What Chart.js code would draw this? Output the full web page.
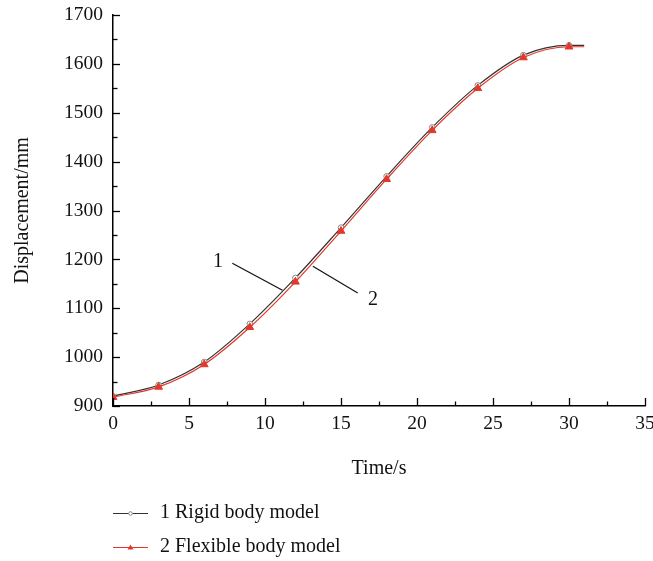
<!DOCTYPE html>
<html>
<head>
<meta charset="utf-8">
<script src="https://cdn.jsdelivr.net/npm/chart.js@4/dist/chart.umd.min.js"></script>
<style>
html,body{margin:0;padding:0;background:#fff;}
#wrap{width:653px;height:561px;position:relative;}
</style>
</head>
<body>
<div id="wrap"><canvas id="c" width="653" height="561"></canvas></div>
<script>
const times = [0, 3, 6, 9, 12, 15, 18, 21, 24, 27, 30, 31];
const rigid = [920, 943, 990, 1068, 1162, 1265, 1370, 1470, 1556, 1618, 1638, 1638];
const flexible = [918, 939, 985, 1061, 1154, 1258, 1364, 1464, 1550, 1613, 1635, 1635];
const seriesLabels = ['1 Rigid body model', '2 Flexible body model'];
const xTitle = 'Time/s';
const yTitle = 'Displacement/mm';
const xTicks = [0, 5, 10, 15, 20, 25, 30, 35];
const yTicks = [900, 1000, 1100, 1200, 1300, 1400, 1500, 1600, 1700];
const calloutLabels = ['1', '2'];

const FONT = "'Liberation Serif', 'Times New Roman', serif";
const RED = '#e2382b';
const DARK = '#333333';

const toPts = (ys) => times.map((t, i) => ({x: t, y: ys[i]}));
const lastIdx = times.length - 1;

const extras = {
  id: 'extras',
  afterDraw(chart) {
    const ctx = chart.ctx;
    const xs = chart.scales.x, ys = chart.scales.y;
    const area = chart.chartArea;
    ctx.save();
    ctx.strokeStyle = '#000';
    ctx.lineWidth = 1.3;
    for (let v = 0; v <= 35.001; v += 2.5) {
      const px = Math.round(xs.getPixelForValue(v)) + 0.5;
      const len = (Math.abs(v % 5) < 1e-6) ? 8 : 4.5;
      ctx.beginPath();
      ctx.moveTo(px, area.bottom);
      ctx.lineTo(px, area.bottom - len);
      ctx.stroke();
    }
    for (let v = 900; v <= 1700.001; v += 50) {
      const py = Math.round(ys.getPixelForValue(v)) + 0.5;
      const len = (v % 100 === 0) ? 7 : 4.5;
      ctx.beginPath();
      ctx.moveTo(area.left, py);
      ctx.lineTo(area.left + len, py);
      ctx.stroke();
    }
    ctx.lineWidth = 1.2;
    ctx.strokeStyle = '#111';
    const seg = (x1, y1, x2, y2) => {
      ctx.beginPath();
      ctx.moveTo(xs.getPixelForValue(x1), ys.getPixelForValue(y1));
      ctx.lineTo(xs.getPixelForValue(x2), ys.getPixelForValue(y2));
      ctx.stroke();
    };
    seg(7.85, 1192, 11.15, 1137);
    seg(13.15, 1186, 16.1, 1131);
    ctx.fillStyle = '#111';
    ctx.font = '20px ' + FONT;
    ctx.textAlign = 'center';
    ctx.textBaseline = 'middle';
    ctx.fillText(calloutLabels[0], xs.getPixelForValue(6.9), ys.getPixelForValue(1195));
    ctx.fillText(calloutLabels[1], xs.getPixelForValue(17.1), ys.getPixelForValue(1117));
    const rows = [513, 547];
    chart.data.datasets.forEach((ds, i) => {
      const y = rows[i] + 0.5;
      ctx.strokeStyle = ds.borderColor;
      ctx.lineWidth = 1.2;
      ctx.beginPath();
      ctx.moveTo(113, y);
      ctx.lineTo(148, y);
      ctx.stroke();
      if (i === 0) {
        ctx.fillStyle = '#fff';
        ctx.strokeStyle = '#888';
        ctx.lineWidth = 1;
        ctx.beginPath();
        ctx.arc(130.5, y, 1.8, 0, Math.PI * 2);
        ctx.fill();
        ctx.stroke();
      } else {
        ctx.fillStyle = RED;
        ctx.beginPath();
        ctx.moveTo(130.5, y - 3);
        ctx.lineTo(133.5, y + 2);
        ctx.lineTo(127.5, y + 2);
        ctx.closePath();
        ctx.fill();
      }
      ctx.fillStyle = '#111';
      ctx.font = '20px ' + FONT;
      ctx.textAlign = 'left';
      ctx.textBaseline = 'middle';
      ctx.fillText(ds.label, 160, rows[i]);
    });
    ctx.restore();
  }
};

new Chart(document.getElementById('c'), {
  type: 'line',
  data: {
    datasets: [
      {
        label: seriesLabels[0],
        data: toPts(rigid),
        borderColor: DARK,
        borderWidth: 1.2,
        cubicInterpolationMode: 'monotone',
        pointStyle: 'circle',
        pointRadius: (c) => c.dataIndex === lastIdx ? 0 : 2.8,
        pointBackgroundColor: '#fff',
        pointBorderColor: '#888',
        pointBorderWidth: 1,
        order: 1
      },
      {
        label: seriesLabels[1],
        data: toPts(flexible),
        borderColor: RED,
        borderWidth: 1.2,
        cubicInterpolationMode: 'monotone',
        pointStyle: 'triangle',
        pointRadius: (c) => c.dataIndex === lastIdx ? 0 : 4.5,
        pointBackgroundColor: RED,
        pointBorderColor: RED,
        pointBorderWidth: 1,
        order: 0
      }
    ]
  },
  options: {
    responsive: false,
    animation: false,
    devicePixelRatio: 1,
    layout: {padding: {left: 0, right: 0, top: 15, bottom: 75}},
    plugins: {legend: {display: false}, tooltip: {enabled: false}},
    scales: {
      x: {
        type: 'linear',
        min: 0, max: 35,
        afterBuildTicks: (s) => { s.ticks = xTicks.map(v => ({value: v})); },
        afterFit: (s) => { s.height = 80; s.paddingRight = 8; s.paddingLeft = 0; },
        grid: {display: false, drawTicks: false},
        border: {display: true, color: '#000', width: 1.5},
        ticks: {font: {family: FONT, size: 19.5}, color: '#111', padding: 6, maxRotation: 0,
                callback: (v) => String(v)},
        title: {display: true, text: xTitle, font: {family: FONT, size: 20}, color: '#111', padding: {top: 0, bottom: 5}}
      },
      y: {
        type: 'linear',
        min: 900, max: 1700,
        afterBuildTicks: (s) => { s.ticks = yTicks.map(v => ({value: v})); },
        afterFit: (s) => { s.width = 113; s.paddingTop = 0; s.paddingBottom = 0; },
        grid: {display: false, drawTicks: false},
        border: {display: true, color: '#000', width: 1.5},
        ticks: {font: {family: FONT, size: 19.5}, color: '#111', padding: 10,
                callback: (v) => String(v)},
        title: {display: true, text: yTitle, font: {family: FONT, size: 20}, color: '#111', padding: {top: 11, bottom: 0}}
      }
    }
  },
  plugins: [extras]
});
</script>
</body>
</html>
